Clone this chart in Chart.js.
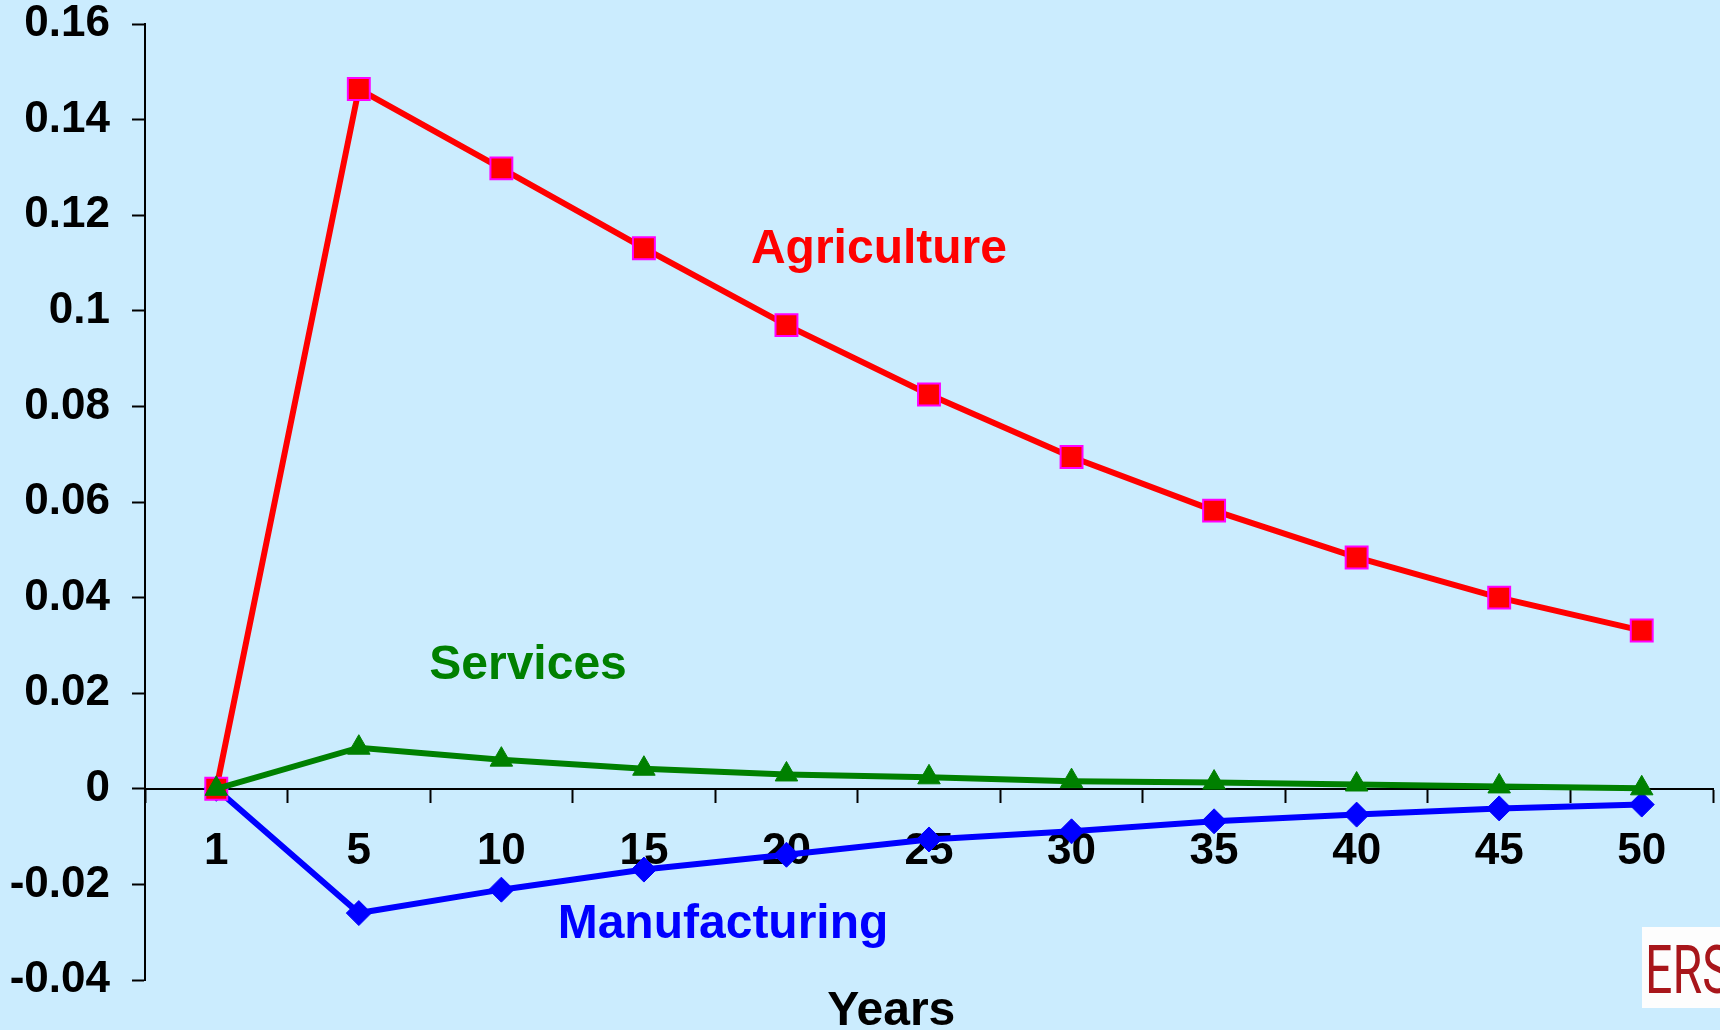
<!DOCTYPE html>
<html>
<head>
<meta charset="utf-8">
<title>Sector impact over time</title>
<script src="https://cdn.jsdelivr.net/npm/chart.js@4.4.1/dist/chart.umd.min.js"></script>
<style>
  html, body { margin: 0; padding: 0; background: #cbecfe; }
  #wrap { width: 1720px; height: 1030px; position: relative; }
</style>
</head>
<body>
<div id="wrap"><canvas id="impact" width="1720" height="1030"></canvas></div>
<script>
const years = ['1', '5', '10', '15', '20', '25', '30', '35', '40', '45', '50'];

const agriculture = [0, 0.1464, 0.1298, 0.1131, 0.0970, 0.0825, 0.0694, 0.0582, 0.0484, 0.0400, 0.0331];
const services = [0, 0.0086, 0.0061, 0.0042, 0.0030, 0.0024, 0.0016, 0.0013, 0.0009, 0.0005, 0.0001];
const manufacturing = [0, -0.0260, -0.0211, -0.0169, -0.0138, -0.0106, -0.0089, -0.0068, -0.0054, -0.0041, -0.0033];

const yTickValues = [-0.04, -0.02, 0, 0.02, 0.04, 0.06, 0.08, 0.1, 0.12, 0.14, 0.16];

// inline series names, placed in data space (category index, value)
const seriesNames = [
    { text: 'Agriculture', x: 4.649, y: 0.1099, color: '#ff0000' },
    { text: 'Services', x: 2.187, y: 0.0229, color: '#008000' },
    { text: 'Manufacturing', x: 3.555, y: -0.0312, color: '#0000ff' },
    { text: 'Years', x: 4.735, y: -0.0495, color: '#000000' }
];

const axisFont = { family: '"Liberation Sans", Arial, sans-serif', size: 44, weight: 'bold' };

const inlineLabels = {
    id: 'inlineLabels',
    afterDraw(chart) {
        const { ctx, scales } = chart;
        ctx.save();
        ctx.font = 'bold 48px "Liberation Sans", Arial, sans-serif';
        ctx.textAlign = 'center';
        ctx.textBaseline = 'alphabetic';
        seriesNames.forEach(function (s) {
            ctx.fillStyle = s.color;
            ctx.fillText(s.text, scales.x.getPixelForValue(s.x), scales.y.getPixelForValue(s.y));
        });

        // ERS badge, bottom right corner
        ctx.fillStyle = '#fdfdfd';
        ctx.fillRect(1642, 927, 78, 81);
        ctx.translate(1645, 993);
        ctx.scale(0.72, 1);
        ctx.font = '400 67px Roboto, sans-serif';
        ctx.textAlign = 'left';
        ctx.fillStyle = '#a8161b';
        ctx.fillText('ERS', 0, 0);
        ctx.restore();
    }
};

const impact = new Chart('impact', {
    type: 'line',
    data: {
        labels: years,
        datasets: [{
            label: 'Services',
            data: services,
            borderColor: '#008000',
            backgroundColor: '#008000',
            borderWidth: 6,
            pointStyle: 'triangle',
            pointRadius: 13,
            pointBorderWidth: 1,
            pointBorderColor: '#008000',
            pointBackgroundColor: '#008000'
        }, {
            label: 'Agriculture',
            data: agriculture,
            borderColor: '#ff0000',
            backgroundColor: '#ff0000',
            borderWidth: 6,
            pointStyle: 'rect',
            pointRadius: 15.5,
            pointBorderWidth: 2,
            pointBorderColor: '#ff00ff',
            pointBackgroundColor: '#ff0000'
        }, {
            label: 'Manufacturing',
            data: manufacturing,
            borderColor: '#0000ff',
            backgroundColor: '#0000ff',
            borderWidth: 6,
            pointStyle: 'rectRot',
            pointRadius: 12.5,
            pointBorderWidth: 1,
            pointBorderColor: '#0000ff',
            pointBackgroundColor: '#0000ff'
        }]
    },
    options: {
        responsive: false,
        animation: false,
        tension: 0,
        layout: {
            autoPadding: false,
            padding: { top: 24, right: 7, bottom: 50, left: 0 }
        },
        plugins: {
            legend: { display: false },
            tooltip: { enabled: false },
            title: { display: false }
        },
        scales: {
            x: {
                type: 'category',
                position: { y: 0 },
                offset: true,
                afterFit(scale) {
                    scale.height = 0;
                    scale.paddingLeft = 0;
                    scale.paddingRight = 0;
                },
                border: { color: '#000000', width: 2 },
                grid: {
                    offset: true,
                    drawOnChartArea: false,
                    drawTicks: true,
                    tickLength: 13,
                    tickColor: '#000000',
                    tickWidth: 2
                },
                ticks: {
                    color: '#000000',
                    font: axisFont,
                    padding: 24,
                    maxRotation: 0,
                    autoSkip: false
                }
            },
            y: {
                min: -0.04,
                max: 0.16,
                afterFit(scale) {
                    scale.width = 145;
                    scale.paddingTop = 0;
                    scale.paddingBottom = 0;
                },
                afterBuildTicks(scale) {
                    scale.ticks = yTickValues.map(v => ({ value: v }));
                },
                border: { color: '#000000', width: 2 },
                grid: {
                    drawOnChartArea: false,
                    drawTicks: true,
                    tickLength: 13,
                    tickColor: '#000000',
                    tickWidth: 2
                },
                ticks: {
                    color: '#000000',
                    font: axisFont,
                    padding: 22,
                    callback: v => String(+v.toFixed(2))
                }
            }
        }
    },
    plugins: [inlineLabels]
});
</script>
</body>
</html>
